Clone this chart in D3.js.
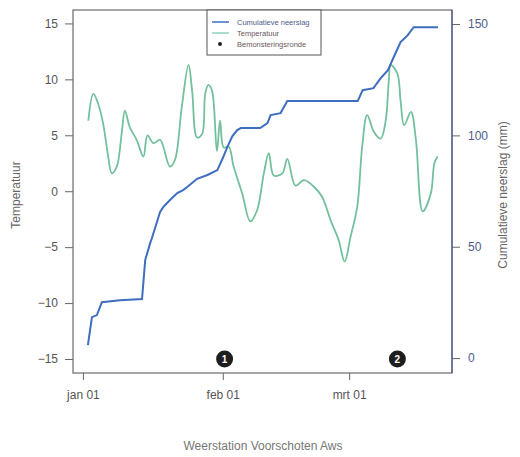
<!DOCTYPE html>
<html lang="nl">
<head>
    <meta charset="UTF-8">
    <title>Weerstation Voorschoten Aws</title>
    <script src="https://d3js.org/d3.v7.min.js"></script>
    <style>
        body { margin: 0; background: #fff; }
        text { font-family: "Liberation Sans", Arial, sans-serif; }
    </style>
</head>
<body>
    <svg width="520" height="457" id="grafiek"></svg>

    <script>
        // Data, dagen geteld vanaf 1 januari
        const startDatum = new Date(2021, 0, 1);

        const tempDag = [1.2, 2.3, 3.4, 4.5, 5.6, 6.4, 7.5, 8.6, 9.3, 10.4, 11.9, 13.4, 14.3, 15.6, 17.1, 17.8,
            19.3, 20.4, 21.9, 23.4, 24.2, 25.3, 26.4, 27.1, 27.8, 28.6, 29.7, 30.4, 31.2, 32.3, 33.4, 35.3,
            37.1, 38.6, 40.1, 41.2, 42.3, 44.2, 45.3, 47.1, 49.0, 51.2, 53.0, 54.9, 56.7, 58.0, 59.3, 60.8,
            61.9, 63.0, 64.5, 66.0, 67.1, 67.8, 68.2, 69.7, 70.4, 71.2, 72.7, 73.8, 75.3, 77.1, 77.9, 78.6];
        const tempWaarde = [6.3, 8.7, 7.8, 6.0, 3.1, 1.6, 2.2, 5.2, 7.2, 5.7, 4.6, 3.1, 5.0, 4.3, 4.6, 4.0,
            2.2, 2.8, 7.5, 11.3, 9.0, 4.8, 5.1, 8.7, 9.5, 9.0, 3.6, 6.3, 3.9, 4.0, 2.2, -0.2,
            -2.7, -1.7, 1.6, 3.4, 1.4, 1.6, 2.9, 0.5, 1.0, 0.4, -0.5, -2.6, -4.4, -6.3, -4.1, -1.4,
            4.0, 6.8, 5.3, 4.7, 6.3, 9.9, 11.3, 10.5, 8.1, 5.9, 7.1, 4.6, -1.8, -0.2, 2.5, 3.1];

        const neerslagDag = [1.1, 2.0, 3.1, 4.2, 8.2, 13.1, 13.8, 14.9, 15.3, 17.1, 17.8, 19.3, 20.9, 22.2,
            23.1, 25.3, 27.6, 29.8, 31.1, 32.0, 33.1, 34.2, 35.0, 39.3, 40.9, 41.6, 43.8, 45.3, 60.9,
            62.0, 64.4, 66.0, 67.6, 68.9, 70.4, 72.0, 73.3, 78.7];
        const neerslagCum = [5.8, 18.4, 19.3, 25.1, 26.0, 26.5, 44.0, 51.6, 53.9, 65.6, 67.8, 71.0, 74.1, 75.4,
            76.8, 80.5, 82.2, 84.4, 90.3, 94.7, 99.6, 102.4, 103.3, 103.3, 105.5, 109.1, 110.0, 115.4, 115.4,
            120.3, 121.2, 125.7, 129.3, 135.2, 141.9, 145.0, 148.6, 148.6];

        const rondeDag = [31.4, 69.7];
        const rondeLabel = ["1", "2"];

        const tempTicks = [-15, -10, -5, 0, 5, 10, 15];
        const neerslagTicks = [0, 50, 100, 150];
        const datumTicks = ["2021-01-01", "2021-02-01", "2021-03-01"];
        const maandNamen = ["jan", "feb", "mrt"];

        const legendaLabels = ["Cumulatieve neerslag", "Temperatuur", "Bemonsteringsronde"];

        // Kleuren
        const blauw = "#3f6dbf";
        const groen = "#73c09c";
        const grijs = "#555";

        const svg = d3.select("#grafiek");
        const links = 73, rechts = 452, boven = 10, onder = 373;

        const dagNaarDatum = d => new Date(startDatum.getTime() + d * 864e5);

        const x = d3.scaleTime()
            .domain([dagNaarDatum(-2.2), dagNaarDatum(81.8)])
            .range([links, rechts]);
        const yTemp = d3.scaleLinear().domain([-16.25, 16.2]).range([onder, boven]);
        const yNeer = d3.scaleLinear().domain([-6.7, 156.3]).range([onder, boven]);

        // Assen
        const xAs = svg.append("g")
            .attr("transform", `translate(0,${onder})`)
            .call(d3.axisBottom(x)
                .tickValues(datumTicks.map(s => d3.timeParse("%Y-%m-%d")(s)))
                .tickFormat(d => maandNamen[d.getMonth()] + " 01")
                .tickSize(7).tickPadding(10));

        const yAsL = svg.append("g")
            .attr("transform", `translate(${links},0)`)
            .call(d3.axisLeft(yTemp).tickValues(tempTicks).tickSize(8).tickPadding(7));

        const yAsR = svg.append("g")
            .attr("transform", `translate(${rechts},0)`)
            .call(d3.axisRight(yNeer).tickValues(neerslagTicks).tickSize(8).tickPadding(8));

        [xAs, yAsL, yAsR].forEach(g => {
            g.select(".domain").remove();
            g.selectAll("line").attr("stroke", "#666");
            g.selectAll("text").attr("fill", grijs).style("font-size", "12px");
        });
        yAsR.selectAll("text").attr("fill", "#4d5b8c");

        // Kader
        svg.append("rect")
            .attr("x", links).attr("y", boven)
            .attr("width", rechts - links).attr("height", onder - boven)
            .attr("fill", "none").attr("stroke", "#6a6a6a").attr("stroke-width", 1.2);
        svg.append("line")
            .attr("x1", rechts).attr("x2", rechts).attr("y1", boven).attr("y2", onder)
            .attr("stroke", "#4d5b8c").attr("stroke-width", 1.2);

        // Temperatuur
        svg.append("path")
            .datum(tempDag.map((d, i) => [dagNaarDatum(d), tempWaarde[i]]))
            .attr("d", d3.line().x(d => x(d[0])).y(d => yTemp(d[1])).curve(d3.curveCatmullRom.alpha(0.5)))
            .attr("fill", "none")
            .attr("stroke", groen)
            .attr("stroke-width", 1.8);

        // Cumulatieve neerslag
        svg.append("path")
            .datum(neerslagDag.map((d, i) => [dagNaarDatum(d), neerslagCum[i]]))
            .attr("d", d3.line().x(d => x(d[0])).y(d => yNeer(d[1])))
            .attr("fill", "none")
            .attr("stroke", blauw)
            .attr("stroke-width", 2);

        // Bemonsteringsrondes
        const ronde = svg.selectAll(".ronde")
            .data(rondeDag)
            .join("g")
            .attr("class", "ronde")
            .attr("transform", d => `translate(${x(dagNaarDatum(d))},${yTemp(-15)})`);
        ronde.append("circle").attr("r", 8.5).attr("fill", "#1e1e1e");
        ronde.append("text")
            .text((d, i) => rondeLabel[i])
            .attr("text-anchor", "middle").attr("dy", "0.35em")
            .attr("fill", "#fff").style("font-size", "10px").style("font-weight", "bold");

        // Legenda
        const leg = svg.append("g").attr("transform", "translate(207,10)");
        leg.append("rect")
            .attr("width", 114).attr("height", 45)
            .attr("fill", "#fff").attr("stroke", "#555").attr("stroke-width", 1);
        leg.selectAll(".item")
            .data(legendaLabels)
            .join("text")
            .attr("x", 30).attr("y", (d, i) => 12 + i * 11)
            .attr("dy", "0.35em")
            .text(d => d)
            .attr("fill", (d, i) => i === 0 ? "#4d5b8c" : "#6a5560")
            .style("font-size", "7.5px");
        leg.append("line").attr("x1", 5).attr("x2", 22).attr("y1", 12).attr("y2", 12)
            .attr("stroke", blauw).attr("stroke-width", 1.5);
        leg.append("line").attr("x1", 5).attr("x2", 22).attr("y1", 23).attr("y2", 23)
            .attr("stroke", "#8fd0c0").attr("stroke-width", 1.5);
        leg.append("circle").attr("cx", 13).attr("cy", 34).attr("r", 2).attr("fill", "#222");

        // Astitels
        svg.append("text")
            .attr("transform", "translate(20,195) rotate(-90)")
            .attr("text-anchor", "middle")
            .attr("fill", "#666").style("font-size", "12px")
            .text("Temperatuur");
        svg.append("text")
            .attr("transform", "translate(507,195) rotate(-90)")
            .attr("text-anchor", "middle")
            .attr("fill", "#666").style("font-size", "12px")
            .text("Cumulatieve neerslag (mm)");
        svg.append("text")
            .attr("x", 263).attr("y", 450)
            .attr("text-anchor", "middle")
            .attr("fill", "#777").style("font-size", "12px")
            .text("Weerstation Voorschoten Aws");
    </script>
</body>
</html>
